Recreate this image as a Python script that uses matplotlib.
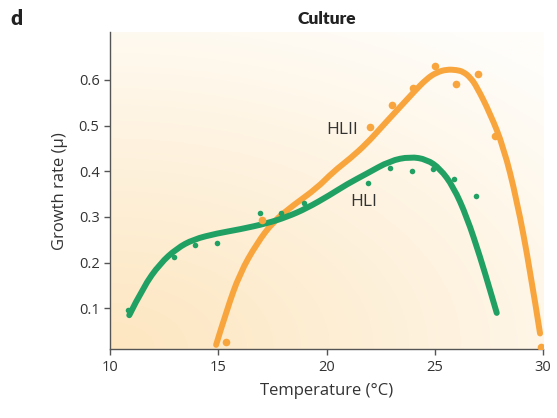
import numpy as np
import matplotlib.pyplot as plt
from matplotlib.path import Path
from matplotlib.patches import PathPatch

plt.rcParams['font.family'] = ['Open Sans', 'DejaVu Sans']

# measured points
hl2_t = [15.34, 17.0, 22.0, 23.0, 24.0, 25.0, 26.0, 27.0, 27.8, 29.9]
hl2_mu = [0.026, 0.293, 0.497, 0.546, 0.583, 0.630, 0.591, 0.614, 0.478, 0.015]
hl1_t = [10.82, 12.96, 13.94, 14.93, 16.94, 17.91, 18.97, 21.9, 22.92, 23.95, 24.92, 25.9, 26.92]
hl1_mu = [0.096, 0.213, 0.239, 0.242, 0.309, 0.309, 0.330, 0.375, 0.408, 0.400, 0.406, 0.384, 0.346]

# fitted curves
hl1_fit_t = [10.89, 11.54, 12.31, 13.08, 13.85, 14.93, 16.0, 17.24, 18.16, 19.08, 20.15,
             20.95, 21.86, 22.93, 23.86, 24.63, 25.24, 25.86, 26.48, 27.09, 27.55, 27.86]
hl1_fit_mu = [0.085, 0.147, 0.198, 0.231, 0.251, 0.264, 0.273, 0.286, 0.300, 0.319, 0.348,
              0.372, 0.395, 0.423, 0.432, 0.426, 0.406, 0.366, 0.300, 0.213, 0.140, 0.090]
hl2_fit_t = [14.90, 15.39, 16.0, 16.78, 17.54, 18.47, 19.55, 20.31, 21.09, 21.86, 22.6, 23.4,
             24.0, 24.63, 25.1, 25.55, 26.0, 26.32, 26.65, 26.94, 27.55, 28.17, 28.79, 29.4, 29.86]
hl2_fit_mu = [0.020, 0.096, 0.177, 0.242, 0.290, 0.326, 0.363, 0.399, 0.428, 0.461, 0.500, 0.541,
              0.572, 0.603, 0.617, 0.623, 0.622, 0.618, 0.605, 0.585, 0.527, 0.454, 0.337, 0.184, 0.045]

green = '#21a064'
orange = '#f9a53e'
txt = '#333333'


def smooth_path(xs, ys):
    # quadratic bezier: read points as control points, midpoints as anchors
    pts = list(zip(xs, ys))
    verts = [pts[0]]
    codes = [Path.MOVETO]
    for i in range(1, len(pts) - 1):
        mid = ((pts[i][0] + pts[i + 1][0]) / 2, (pts[i][1] + pts[i + 1][1]) / 2)
        if i == len(pts) - 2:
            mid = pts[-1]
        verts += [pts[i], mid]
        codes += [Path.CURVE3, Path.CURVE3]
    return Path(verts, codes)


fig = plt.figure(figsize=(5.57, 4.18), dpi=100)
ax = fig.add_axes([0.1975, 0.164, 0.7775, 0.7594])

# background gradient, warm in lower left to white in upper right
gx, gy = np.meshgrid(np.linspace(0, 1, 200), np.linspace(0, 1, 200))
g = np.clip(1 - np.sqrt((gx * 0.9) ** 2 + (gy * 1.1) ** 2) / 1.3, 0, 1)
c0 = np.array([255, 253, 249]) / 255
c1 = np.array([253, 230, 192]) / 255
img = c0 + (c1 - c0) * g[..., None]
ax.imshow(img, extent=[0, 1, 0, 1], transform=ax.transAxes, origin='lower',
          aspect='auto', zorder=0)

ax.add_patch(PathPatch(smooth_path(hl2_fit_t, hl2_fit_mu), fill=False, ec=orange,
                       lw=4.3, capstyle='round', joinstyle='round', zorder=2))
ax.add_patch(PathPatch(smooth_path(hl1_fit_t, hl1_fit_mu), fill=False, ec=green,
                       lw=4.3, capstyle='round', joinstyle='round', zorder=3))
ax.plot(hl1_t, hl1_mu, 'o', color=green, ms=4, mew=0, zorder=4)
ax.plot(hl2_t, hl2_mu, 'o', color=orange, ms=5.5, mew=0, zorder=4)

ax.text(20.7, 0.49, 'HLII', fontsize=12.5, color=txt, ha='center', va='center')
ax.text(21.7, 0.333, 'HLI', fontsize=12.5, color=txt, ha='center', va='center')

ax.set_xlim(10, 30)
ax.set_ylim(0.01, 0.705)
ax.set_xticks([10, 15, 20, 25, 30])
ax.set_yticks([0.1, 0.2, 0.3, 0.4, 0.5, 0.6])
ax.set_yticklabels(['0.1', '0.2', '0.3', '0.4', '0.5', '0.6'])
for s in ['top', 'right']:
    ax.spines[s].set_visible(False)
for s in ['left', 'bottom']:
    ax.spines[s].set_color('#555555')
    ax.spines[s].set_linewidth(1)
ax.tick_params(length=4, width=1, color='#555555', labelcolor=txt, labelsize=10.5)

ax.set_xlabel('Temperature (°C)', fontsize=12, color=txt, labelpad=6)
ax.set_ylabel('Growth rate (μ)', fontsize=12, color=txt, labelpad=8)
ax.set_title('Culture', fontsize=12.5, fontweight='heavy', color='#222222',
             family='Lato', pad=6)
fig.text(0.018, 0.955, 'd', fontsize=15, fontweight='heavy', color='#222222',
         family='Lato', va='center')

fig.savefig('out.png', dpi=100)
